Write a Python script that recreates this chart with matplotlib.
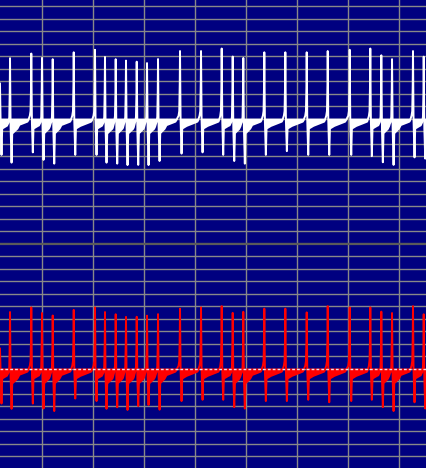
import matplotlib

matplotlib.use("Agg")
import matplotlib.pyplot as plt
import numpy as np

# spike times (ms), shared by both channels
SPIKE_T = [17.6, 37.3, 79.0, 100.0, 121.0, 162.2, 203.9, 223.5, 244.5, 264.7,
           285.7, 305.9, 327.5, 370.6, 411.8, 452.3, 473.9, 494.7, 535.9, 577.1,
           619.0, 660.2, 703.3, 743.7, 765.3, 786.3, 827.4, 848.4]

# per-spike peak / trough (mV, relative to resting level)
TOP_PEAK = [28, 53, 52, 53, 52, 53, 55, 54, 52, 51, 50, 49, 52, 54,
            54, 56, 54, 53, 53, 53, 53, 54, 55, 56, 55, 52, 54, 54]
TOP_TROUGH = [-29, -31, -27, -29, -32, -29, -29, -31, -32, -33, -33, -33, -30, -28,
              -27, -29, -30, -32, -29, -26, -29, -29, -29, -30, -31, -33, -31, -28]
BOT_PEAK = [16, 50, 49, 49, 47, 47, 49, 50, 48, 46, 46, 47, 48, 48,
            49, 50, 49, 50, 48, 48, 45, 50, 49, 49, 50, 49, 50, 48]
BOT_TROUGH = [-28, -28, -28, -28, -30, -24, -26, -28, -27, -29, -26, -25, -29, -26,
              -25, -25, -27, -28, -26, -26, -25, -27, -26, -25, -27, -30, -27, -28]

# single spike waveform read from one event (ms offset, mV); peak/trough filled per spike
TEMPLATE_DT = [-6.0, -3.0, -1.5, -0.6, 0.0, 1.0, 3.0, 4.2, 12.0, 24.0, 34.0, 38.0]
TEMPLATE_MV = [0.0, 2.0, 6.0, 0.0, 0.0, 0.0, 0.0, -8.0, -6.0, -4.0, -2.5, 0.0]
RISE_IDX, PEAK_IDX, TROUGH_IDX = 3, 4, 6

XLIM = (17.65, 852.9)
BG = "#000080"
GRID = "#888888"


def build_trace(t, peaks, troughs):
    v = np.zeros_like(t)
    for t0, p, tr in zip(SPIKE_T, peaks, troughs):
        shape = np.array(TEMPLATE_MV, dtype=float)
        shape[RISE_IDX] = 0.45 * p
        shape[PEAK_IDX] = p
        shape[TROUGH_IDX] = tr
        v += np.interp(t - t0, TEMPLATE_DT, shape, left=0.0, right=0.0)
    return v


def style_axes(ax, ylim, yticks, divider_side):
    ax.set_facecolor(BG)
    ax.set_xlim(*XLIM)
    ax.set_ylim(*ylim)
    ax.set_xticks(np.arange(100, 801, 100))
    ax.set_yticks(yticks)
    ax.grid(True, color=GRID, lw=1.0)
    ax.set_axisbelow(True)
    ax.tick_params(length=0, labelbottom=False, labelleft=False)
    for side, sp in ax.spines.items():
        sp.set_visible(side == divider_side)
        sp.set_color("#5a5a5a")
        sp.set_linewidth(1.6)


t = np.union1d(np.linspace(XLIM[0] - 5, XLIM[1] + 5, 4000),
               (np.array(SPIKE_T)[:, None] + np.array(TEMPLATE_DT)[None, :]).ravel())
v_top = build_trace(t, TOP_PEAK, TOP_TROUGH)
v_bot = build_trace(t, BOT_PEAK, BOT_TROUGH)

fig = plt.figure(figsize=(4.26, 4.68), dpi=100, facecolor=BG)
split = 224.3 / 468
ax_top = fig.add_axes([0, split, 1, 1 - split])
ax_bot = fig.add_axes([0, 0, 1, split])

style_axes(ax_top, (-100, 94.8), np.arange(-90, 91, 10), "bottom")
style_axes(ax_bot, (-79.6, 100), np.arange(-70, 91, 10), "top")

ax_top.fill_between(t, v_top, 0, where=v_top < 0, color="white", lw=0, interpolate=True)
ax_top.plot(t, v_top, color="white", lw=1.4)

ax_bot.fill_between(t, v_bot, 0, where=v_bot < 0, color="red", lw=0, interpolate=True)
ax_bot.plot(t, v_bot, color="red", lw=1.4)
ax_bot.axhline(0, color="#f4dce8", lw=1.0, dashes=(2, 1.5))

fig.savefig("out.png", dpi=100, facecolor=BG)
plt.close(fig)
